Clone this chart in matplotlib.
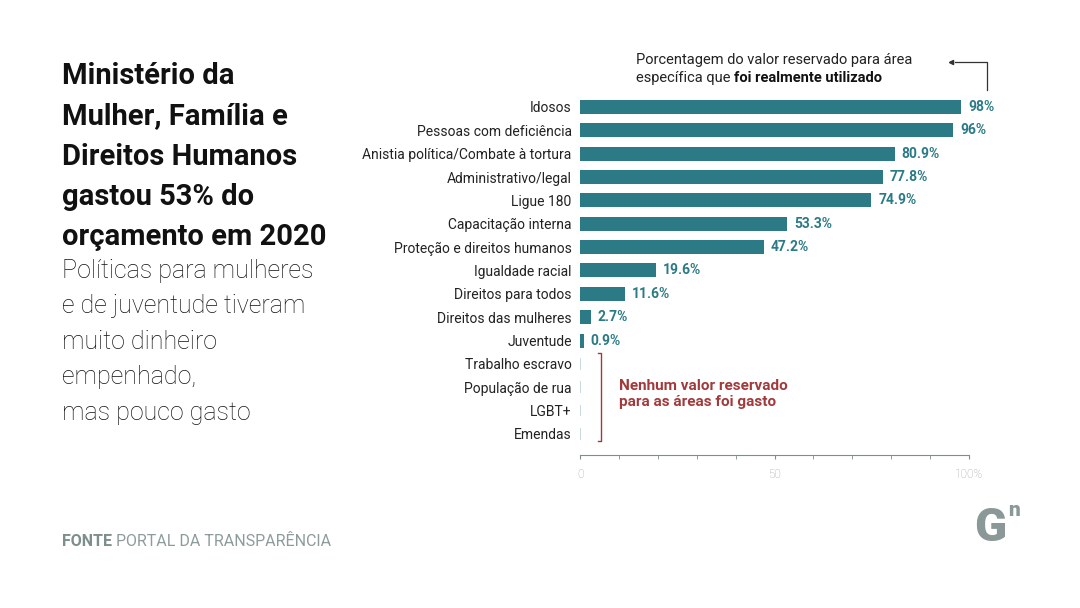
import matplotlib
matplotlib.use('Agg')
import matplotlib.pyplot as plt
import numpy as np

plt.rcParams['font.family'] = ['Roboto', 'DejaVu Sans']

categorias = ['Idosos', 'Pessoas com deficiência', 'Anistia política/Combate à tortura',
              'Administrativo/legal', 'Ligue 180', 'Capacitação interna',
              'Proteção e direitos humanos', 'Igualdade racial', 'Direitos para todos',
              'Direitos das mulheres', 'Juventude', 'Trabalho escravo',
              'População de rua', 'LGBT+', 'Emendas']
valores = [98, 96, 80.9, 77.8, 74.9, 53.3, 47.2, 19.6, 11.6, 2.7, 0.9, 0, 0, 0, 0]
rotulos = ['98%', '96%', '80.9%', '77.8%', '74.9%', '53.3%', '47.2%', '19.6%',
           '11.6%', '2.7%', '0.9%', '', '', '', '']
ticks = [0, 50, 100]
tick_labels = ['0', '50', '100%']

teal = '#2b7a86'
vermelho = '#a23a3c'
cinza = '#7d8e8c'

fig = plt.figure(figsize=(10.8, 6.08), dpi=100)
fig.patch.set_facecolor('white')
ax = fig.add_axes([580 / 1080, 1 - 455 / 608, 389 / 1080, 359.7 / 608])

y = np.arange(len(categorias))
vals = np.array(valores)
ax.barh(y[vals > 0], vals[vals > 0], height=0.6, color=teal)
ax.barh(y[vals == 0], 0.25, height=0.5, color='#c9dde0')

for yi, v, r in zip(y, valores, rotulos):
    if r:
        ax.annotate(r, (v, yi), xytext=(5, 0), textcoords='offset points',
                    va='center', ha='left', fontsize=10, fontweight='bold', color=teal)

ax.set_xlim(0, 100)
ax.set_ylim(14.9, -0.5)
ax.set_yticks(y)
ax.set_yticklabels(categorias, fontsize=10, color='#222222')
ax.tick_params(axis='y', length=0, pad=6)
ax.set_xticks(ticks)
ax.set_xticklabels(tick_labels, fontsize=8.5, color='#9aa5a4', fontweight='light')
ax.set_xticks(np.arange(0, 101, 10), minor=True)
ax.tick_params(axis='x', which='both', length=3, color=cinza, pad=6)
for s in ['top', 'right', 'left']:
    ax.spines[s].set_visible(False)
ax.spines['bottom'].set_color(cinza)
ax.spines['bottom'].set_linewidth(0.8)

# bracket for zero-valued areas
ax.plot([4.5, 5.3, 5.3, 4.5], [10.55, 10.55, 14.3, 14.3], color=vermelho, lw=1,
        clip_on=False)
ax.text(10, 12.3, 'Nenhum valor reservado\npara as áreas foi gasto', color=vermelho,
        fontsize=11, fontweight='bold', va='center', ha='left', linespacing=1.15)

# top note with arrow
fig.text(636 / 1080, 1 - 60 / 608, 'Porcentagem do valor reservado para área',
         fontsize=10.5, color='#222222', va='center')
t1 = fig.text(636 / 1080, 1 - 78 / 608, 'específica que ', fontsize=10.5,
              color='#222222', va='center')
fig.canvas.draw()
bb = t1.get_window_extent()
fig.text(bb.x1 / 1080, 1 - 78 / 608, 'foi realmente utilizado', fontsize=10.5,
         color='#111111', fontweight='bold', va='center')
fig.add_artist(plt.Line2D([987 / 1080, 987 / 1080, 955 / 1080],
                          [1 - 90 / 608, 1 - 62 / 608, 1 - 62 / 608],
                          color='#333333', lw=0.9, transform=fig.transFigure))
fig.add_artist(plt.Line2D([951 / 1080], [1 - 62 / 608], marker='<', markersize=3,
                          color='#333333', transform=fig.transFigure))

# title and subtitle
fig.text(62 / 1080, 1 - 62 / 608,
         'Ministério da\nMulher, Família e\nDireitos Humanos\ngastou 53% do\norçamento em 2020',
         fontsize=21, fontweight='bold', color='#111111', va='top', linespacing=1.56)
fig.text(62 / 1080, 1 - 259 / 608,
         'Políticas para mulheres\ne de juventude tiveram\nmuito dinheiro\nempenhado,\nmas pouco gasto',
         fontsize=18, fontweight='light', color='#111111', va='top', linespacing=1.6)

# footer
f1 = fig.text(62 / 1080, 1 - 542 / 608, 'FONTE', fontsize=11.5, fontweight='bold',
              color=cinza, va='center')
fig.canvas.draw()
bb = f1.get_window_extent()
fig.text(bb.x1 / 1080 + 0.004, 1 - 542 / 608, 'PORTAL DA TRANSPARÊNCIA', fontsize=11.5,
         fontweight='normal', color='#8d9c9a', va='center')

# logo
fig.text(990 / 1080, 1 - 528 / 608, 'G', fontsize=34, fontweight='black',
         color='#8a9898', ha='center', va='center')
fig.text(1014 / 1080, 1 - 511 / 608, 'n', fontsize=15, fontweight='black',
         color='#8a9898', ha='center', va='center')

fig.savefig('out.png', dpi=100, facecolor='white')
